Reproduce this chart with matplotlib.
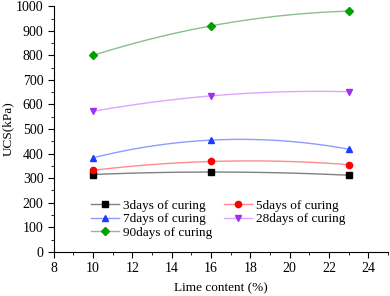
import numpy as np
import matplotlib.pyplot as plt
from matplotlib.ticker import MultipleLocator

plt.rcParams['font.family'] = ['Liberation Serif', 'DejaVu Serif']

# data
lime = [10, 16, 23]
ucs_3d = [315, 325, 312]
ucs_5d = [332, 368, 355]
ucs_7d = [383, 455, 418]
ucs_28d = [572, 635, 652]
ucs_90d = [800, 920, 980]

series = [
    ("3days of curing", ucs_3d, 's', 'black', '#808080'),
    ("5days of curing", ucs_5d, 'o', 'red', '#ff8c8c'),
    ("7days of curing", ucs_7d, '^', '#1a3cff', '#8c9cff'),
    ("28days of curing", ucs_28d, 'v', '#a030f0', '#dca8ff'),
    ("90days of curing", ucs_90d, 'D', '#00a000', '#8cbf8c'),
]

fig = plt.figure(figsize=(3.9, 2.96), dpi=100)
ax = fig.add_axes([0.138, 0.149, 0.857, 0.83])

handles = {}
for name, vals, mk, mc, lc in series:
    ms = 4 if mk == 'D' else 4.5
    # smooth curve through the three points (like Origin's spline line)
    coef = np.polyfit(lime, vals, 2)
    xs = np.linspace(lime[0], lime[-1], 100)
    ax.plot(xs, np.polyval(coef, xs), color=lc, lw=1.0)
    ax.plot(lime, vals, linestyle='none', marker=mk, color=mc, markersize=ms)
    h, = ax.plot([], [], color=lc, lw=1.0, marker=mk, mfc=mc, mec=mc,
                 markersize=ms)
    handles[name] = h

order = ["3days of curing", "7days of curing", "90days of curing",
         "5days of curing", "28days of curing"]
ax.legend([handles[n] for n in order], order, ncol=2, frameon=False,
          loc='lower left', bbox_to_anchor=(0.08, 0.01), fontsize=9.5,
          handlelength=2.1, handletextpad=0.3, columnspacing=0.9,
          labelspacing=0.1, borderpad=0.3)

ax.set_xlim(8, 25)
ax.set_ylim(0, 1000)
ax.xaxis.set_major_locator(MultipleLocator(2))
ax.xaxis.set_minor_locator(MultipleLocator(1))
ax.yaxis.set_major_locator(MultipleLocator(100))
ax.yaxis.set_minor_locator(MultipleLocator(50))
ax.tick_params(which='major', direction='out', length=4, labelsize=10)
ax.tick_params(which='minor', direction='out', length=2)
ax.spines['top'].set_visible(False)
ax.spines['right'].set_visible(False)
ax.set_xlabel("Lime content (%)", fontsize=9.5, labelpad=5)
ax.set_ylabel("UCS(kPa)", fontsize=9.5, labelpad=1)

plt.savefig('out.png', dpi=100)
